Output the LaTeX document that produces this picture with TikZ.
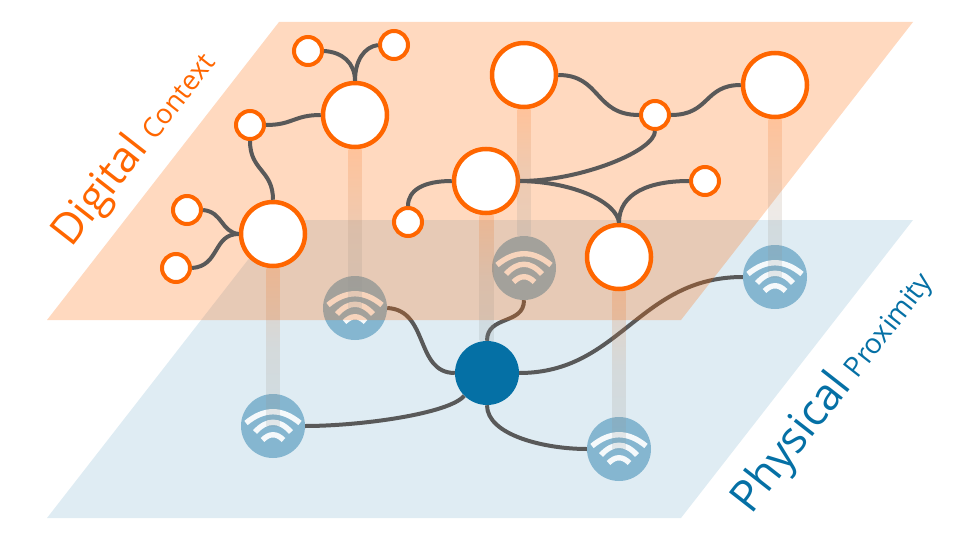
\documentclass[tikz,border=0pt]{standalone}
\usepackage{fontspec}
\setmainfont{Open Sans}
\usetikzlibrary{calc}
\definecolor{dorange}{HTML}{FF6600}
\definecolor{pblue}{HTML}{0570A5}
\definecolor{wifiblue}{HTML}{85B6D0}
\definecolor{planeblue}{HTML}{DFECF3}
\definecolor{wiregray}{HTML}{595959}
\definecolor{polegray}{HTML}{8C9A9E}
\tikzset{
  x=1pt,y=-1pt,
  bignode/.style={circle,draw=dorange,fill=white,line width=4.5pt,minimum size=64pt,inner sep=0pt},
  smallnode/.style={circle,draw=dorange,fill=white,line width=4pt,minimum size=28pt,inner sep=0pt},
  wifinode/.style={circle,fill=wifiblue,minimum size=64pt,inner sep=0pt},
  hubnode/.style={circle,fill=pblue,minimum size=64pt,inner sep=0pt},
  wire/.style={draw=wiregray,line width=4pt},
  pole/.style={top color=dorange,bottom color=polegray,middle color=polegray!75!dorange,fill opacity=.19,draw=none},
  wifiarc/.style={draw=white,line width=5.4pt,opacity=.92},
  wifiarcs/.pic={
    \draw[wifiarc] (-27,-3) .. controls (-9,-18) and (9,-18) .. (27,-3);
    \draw[wifiarc] (-18,6) .. controls (-6,-7) and (6,-7) .. (18,6);
    \draw[wifiarc] (-10.5,14) .. controls (-3.5,7) and (3.5,7) .. (10.5,14);
  }
}
\begin{document}
\begin{tikzpicture}
\useasboundingbox (0,0) rectangle (960,540);
% physical plane
\fill[planeblue] (279,220) -- (913,220) -- (681,518) -- (47,518) -- cycle;
% physical nodes
\node[wifinode] (w1) at (355,308) {};
\node[wifinode] (w2) at (524,268) {};
\node[wifinode] (w3) at (775,277) {};
\node[wifinode] (w4) at (273,426) {};
\node[wifinode] (w5) at (619,449) {};
\pic at (w1) {wifiarcs};
\pic at (w2) {wifiarcs};
\pic at (w3) {wifiarcs};
\pic at (w4) {wifiarcs};
\pic at (w5) {wifiarcs};
\node[hubnode] (hub) at (487,373) {};
% physical wires
\draw[wire] (w1.east) .. controls +(42,2) and +(-40,0) .. (hub.west);
\draw[wire] (w2.south) .. controls +(0,25) and +(0,-26) .. (hub.north);
\draw[wire] (hub.east) .. controls +(101,0) and +(-104,0) .. (w3.west);
\draw[wire] (hub.south) .. controls +(0,30) and +(-42,0) .. (w5.west);
\draw[wire] (hub.south west) .. controls +(-15,18) and +(55,0) .. (w4.east);
% digital plane
\fill[dorange,fill opacity=.25] (279,22) -- (913,22) -- (681,320) -- (47,320) -- cycle;
% digital nodes
\node[bignode] (A) at (355,115) {};
\node[bignode] (B) at (273,234) {};
\node[bignode] (C) at (486,181) {};
\node[bignode] (D) at (524,75) {};
\node[bignode] (E) at (775,85) {};
\node[bignode] (F) at (619,257) {};
\node[smallnode] (s1) at (308,51) {};
\node[smallnode] (s2) at (394,45) {};
\node[smallnode] (s3) at (250,125) {};
\node[smallnode] (s4) at (187,210) {};
\node[smallnode] (s5) at (176,268) {};
\node[smallnode] (s6) at (655,115) {};
\node[smallnode] (s7) at (408,222) {};
\node[smallnode] (s8) at (705,181) {};
% poles
\shade[pole] ($(A.south)+(-6.5,0)$) rectangle ($(w1.center)+(6.5,0)$);
\shade[pole] ($(B.south)+(-6.5,0)$) rectangle ($(w4.center)+(6.5,0)$);
\shade[pole] ($(C.south)+(-6.5,0)$) rectangle ($(hub.north)+(6.5,0)$);
\shade[pole] ($(D.south)+(-6.5,0)$) rectangle ($(w2.north)+(6.5,0)$);
\shade[pole] ($(E.south)+(-6.5,0)$) rectangle ($(w3.center)+(6.5,0)$);
\shade[pole] ($(F.south)+(-6.5,0)$) rectangle ($(w5.center)+(6.5,0)$);
% digital wires
\draw[wire] (s1.east) .. controls +(18,1) and +(0,-18) .. (A.north);
\draw[wire] (s2.west) .. controls +(-14,2) and +(0,-20) .. (A.north);
\draw[wire] (s3.east) .. controls +(27,0) and +(-27,0) .. (A.west);
\draw[wire] (s3.south) .. controls +(0,30) and +(0,-30) .. (B.north);
\draw[wire] (s4.east) .. controls +(20,2) and +(-18,-2) .. (B.west);
\draw[wire] (s5.east) .. controls +(28,-2) and +(-26,0) .. (B.west);
\draw[wire] (D.east) .. controls +(43,0) and +(-45,0) .. (s6.west);
\draw[wire] (s6.east) .. controls +(39,0) and +(-37,0) .. (E.west);
\draw[wire] (s6.south) .. controls +(0,20) and +(60,0) .. (C.east);
\draw[wire] (C.east) .. controls +(55,1) and +(-2,-20) .. (F.north);
\draw[wire] (s8.west) .. controls +(-39,0) and +(0,-30) .. (F.north);
\draw[wire] (s7.north) .. controls +(0,-16) and +(-28,0) .. (C.west);
% labels
\node[anchor=base west,rotate=52,inner sep=0pt,text=dorange,font=\fontsize{43}{43}\selectfont] (digital) at (71,249) {Digital\hspace{10pt}{\fontsize{27.5}{27.5}\selectfont Context}};
\node[anchor=base west,rotate=52,inner sep=0pt,text=pblue,font=\fontsize{44}{44}\selectfont] (physical) at (751,516) {Physical\hspace{9pt}{\fontsize{28}{28}\selectfont Proximity}};
\end{tikzpicture}
\end{document}
